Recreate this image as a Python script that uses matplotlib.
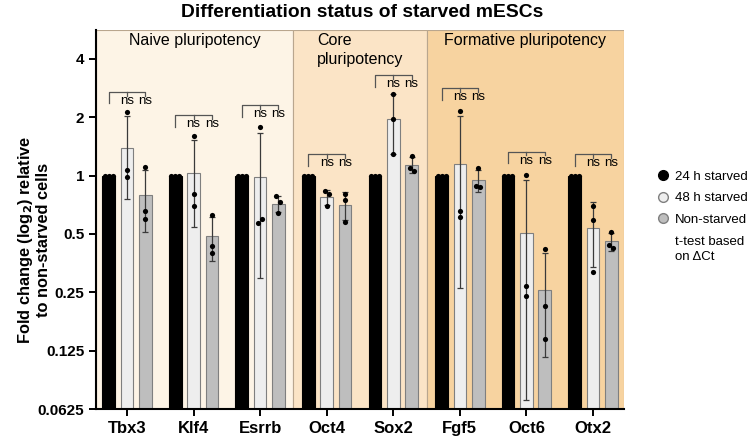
import numpy as np
import matplotlib
matplotlib.use('Agg')
import matplotlib.pyplot as plt
import matplotlib.transforms as mtransforms
from matplotlib.lines import Line2D

plt.rcParams['font.family'] = ['Liberation Sans', 'DejaVu Sans']

# genes on the x axis
genes = ['Tbx3', 'Klf4', 'Esrrb', 'Oct4', 'Sox2', 'Fgf5', 'Oct6', 'Otx2']

# individual replicates (fold change)
starved24 = [[1, 1, 1]] * 8
starved48 = [
    [2.12, 1.07, 0.98],
    [1.59, 0.80, 0.70],
    [1.77, 0.57, 0.60],
    [0.83, 0.80, 0.70],
    [2.63, 1.95, 1.29],
    [2.16, 0.66, 0.61],
    [1.01, 0.27, 0.238],
    [0.695, 0.59, 0.317],
]
nonstarved = [
    [1.11, 0.66, 0.60],
    [0.628, 0.433, 0.40],
    [0.78, 0.73, 0.64],
    [0.805, 0.744, 0.575],
    [1.257, 1.095, 1.05],
    [1.09, 0.878, 0.87],
    [0.416, 0.213, 0.143],
    [0.513, 0.437, 0.423],
]

# height of the "ns" brackets per gene
bracket_y = [2.71, 2.06, 2.32, 1.29, 3.31, 2.83, 1.33, 1.29]

series = ['24 h starved', '48 h starved', 'Non-starved']
panels = ['Naive pluripotency', 'Core\npluripotency', 'Formative pluripotency']

fig = plt.figure(figsize=(7.53, 4.4), dpi=100)
ax = fig.add_axes([96/753, 1-409/440, 528/753, 379/440])
trans = mtransforms.blended_transform_factory(ax.transData, ax.transAxes)

# background panels
x0, x1 = -0.465, 7.465
spans = [(x0, 2.5, '#FDF4E6'), (2.5, 4.5, '#FBE4C6'), (4.5, x1, '#F7D3A0')]
for (a, b, c), name in zip(spans, panels):
    ax.axvspan(a, b, facecolor=c, edgecolor='#B9A68E', lw=0.8, zorder=0)
    ax.text((a + b) / 2, 1 - 3/379, name, ha='center', va='top', fontsize=11.5,
            multialignment='left', linespacing=1.3, zorder=5, transform=trans)

x = np.arange(len(genes))
off = 0.275
w = 0.19
faces = ['black', '#EEEEEE', '#BEBEBE']
edges = ['black', '#7F7F7F', '#7F7F7F']
data = [starved24, starved48, nonstarved]

for k, (vals, fc, ec) in enumerate(zip(data, faces, edges)):
    xs = x + (k - 1) * off
    arr = np.array(vals, dtype=float)
    means = arr.mean(axis=1)
    sds = arr.std(axis=1, ddof=1)
    ax.bar(xs, means, width=w, color=fc, edgecolor=ec, lw=0.8, zorder=2)
    low = np.minimum(sds, means - 0.064)
    ax.errorbar(xs, means, yerr=[low, sds], fmt='none', ecolor='#3A3A3A',
                elinewidth=0.9, capsize=2.5, capthick=0.9, zorder=3)
    # points, spread sideways where they overlap
    for xi, pts in zip(xs, arr):
        l2 = np.log2(pts)
        shift = np.zeros(len(pts))
        for i in range(len(pts)):
            for j in range(i + 1, len(pts)):
                if abs(l2[i] - l2[j]) < 0.1:
                    shift[i] -= 0.03
                    shift[j] += 0.03
        ax.scatter(xi + shift, pts, s=14, color='black', zorder=4, lw=0)

# ns brackets
for xi, by in zip(x, bracket_y):
    xl, xm, xr = xi - off, xi, xi + off
    ax.plot([xl, xl, xr, xr], [by * 0.868, by, by, by * 0.954],
            color='#555555', lw=0.9, zorder=4)
    ax.plot([xm, xm], [by, by * 0.954], color='#555555', lw=0.9, zorder=4)
    ax.text(xm, by * 0.965, 'ns', ha='center', va='top', fontsize=9.5, zorder=5)
    ax.text(xr, by * 0.965, 'ns', ha='center', va='top', fontsize=9.5, zorder=5)

ax.set_yscale('log', base=2)
ax.set_ylim(0.0625, 5.63)
ax.set_xlim(x0, x1)
yt = [0.0625, 0.125, 0.25, 0.5, 1, 2, 4]
ax.set_yticks(yt)
ax.set_yticklabels(['0.0625', '0.125', '0.25', '0.5', '1', '2', '4'],
                   fontweight='bold', fontsize=11)
ax.yaxis.set_minor_locator(matplotlib.ticker.NullLocator())
ax.set_xticks(x)
ax.set_xticklabels(genes, fontweight='bold', fontsize=12)
ax.tick_params(width=1.4, length=5)
for s in ['top', 'right']:
    ax.spines[s].set_visible(False)
for s in ['left', 'bottom']:
    ax.spines[s].set_linewidth(1.5)
ax.set_ylabel('Fold change (log$_\\mathbf{2}$) relative\nto non-starved cells',
              fontweight='bold', fontsize=11.8, linespacing=1.1)
ax.yaxis.set_label_coords(-0.085, 0.446)

fig.text(362/753, 0.972, 'Differentiation status of starved mESCs',
         ha='center', va='center', fontweight='bold', fontsize=13.9)

handles = [Line2D([], [], marker='o', ls='', markerfacecolor=fc,
                  markeredgecolor=ec, markersize=7)
           for fc, ec in zip(faces, ['black', '#7F7F7F', '#7F7F7F'])]
fig.legend(handles, series, loc='upper left', bbox_to_anchor=(650/753, 1-164/440),
           frameon=False, fontsize=9.5, handletextpad=0.4, labelspacing=0.7,
           handlelength=1.0, borderpad=0)
fig.text(675/753, 1-236/440, 't-test based\non ΔCt', ha='left', va='top',
         fontsize=9.5, linespacing=1.35)

fig.savefig('out.png', dpi=100)
